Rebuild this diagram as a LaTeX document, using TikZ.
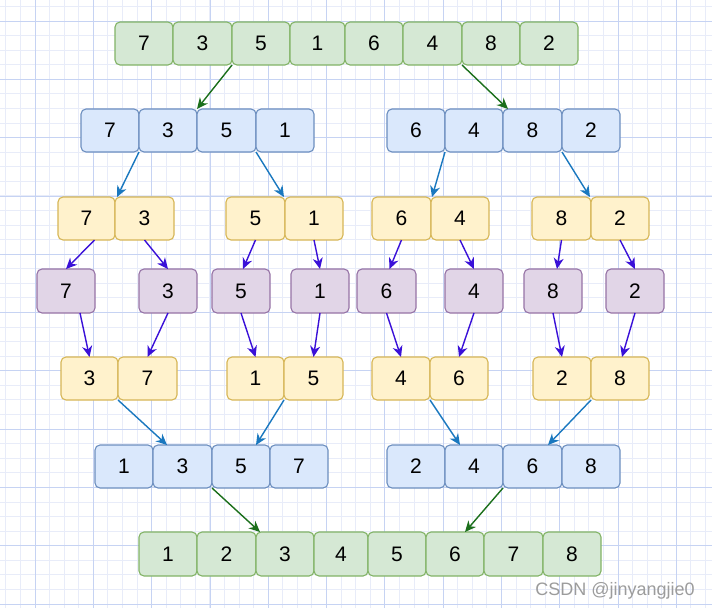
\documentclass[tikz,border=0pt]{standalone}
\usepackage{fontspec}
\setmainfont{Liberation Sans}
\usetikzlibrary{arrows.meta,calc}
\definecolor{gfill}{HTML}{D5E8D4}
\definecolor{gline}{HTML}{82B366}
\definecolor{bfill}{HTML}{DAE8FC}
\definecolor{bline}{HTML}{6C8EBF}
\definecolor{yfill}{HTML}{FFF2CC}
\definecolor{yline}{HTML}{D6B656}
\definecolor{pfill}{HTML}{E1D5E7}
\definecolor{pline}{HTML}{9673A6}
\definecolor{garrow}{HTML}{1B6F1B}
\definecolor{barrow}{HTML}{1A78BF}
\definecolor{parrow}{HTML}{3A10D8}
\definecolor{gridminor}{HTML}{E8ECF9}
\definecolor{gridmajor}{HTML}{C6D3F3}
\definecolor{wmark}{HTML}{9C9C9C}
\newcommand\bx[7]{%
  \pgfmathsetmacro\bxw{#4-#3}\pgfmathsetmacro\bxh{#6-#5}%
  \pgfmathsetmacro\bxcx{(#3+#4)/2}\pgfmathsetmacro\bxcy{(#5+#6)/2}%
  \node[#1,minimum width=\bxw pt,minimum height=\bxh pt] (#2) at (\bxcx,\bxcy) {#7};}
\tikzset{
  box/.style={rounded corners=5pt, line width=1.1pt, inner sep=0pt, outer sep=0pt,
    font=\fontsize{21}{24}\selectfont, text=black},
  gbox/.style={box, fill=gfill, draw=gline},
  bbox/.style={box, fill=bfill, draw=bline},
  ybox/.style={box, fill=yfill, draw=yline},
  pbox/.style={box, fill=pfill, draw=pline},
  arr/.style={line width=1.4pt, -{Stealth[length=11pt,width=10pt,inset=3.5pt]}},
  garr/.style={arr, draw=garrow},
  barr/.style={arr, draw=barrow},
  parr/.style={arr, draw=parrow},
  minorline/.style={draw=gridminor, line width=0.9pt},
  majorline/.style={draw=gridmajor, line width=0.8pt},
}
\begin{document}
\begin{tikzpicture}[x=1pt,y=-1pt]
\useasboundingbox (0,0) rectangle (712,608);
\fill[white] (0,0) rectangle (712,608);
% grid
\foreach \k in {0,...,48} {\draw[minorline] ({5.85+14.575*\k},0) -- ({5.85+14.575*\k},608);}
\foreach \k in {0,...,41} {\draw[minorline] (0,{6.4+14.575*\k}) -- (712,{6.4+14.575*\k});}
\foreach \k in {0,...,12} {\draw[majorline] ({35+58.3*\k-58.3},0) -- ({35+58.3*\k-58.3},608);}
\foreach \k in {0,...,10} {\draw[majorline] (0,{21+58.3*\k}) -- (712,{21+58.3*\k});}
% row 1
\bx{gbox}{t1}{115}{173}{22}{65}{7}
\bx{gbox}{t2}{173}{232}{22}{65}{3}
\bx{gbox}{t3}{232}{290}{22}{65}{5}
\bx{gbox}{t4}{290}{345}{22}{65}{1}
\bx{gbox}{t5}{345}{403}{22}{65}{6}
\bx{gbox}{t6}{403}{462}{22}{65}{4}
\bx{gbox}{t7}{462}{520}{22}{65}{8}
\bx{gbox}{t8}{520}{578}{22}{65}{2}
% row 2
\bx{bbox}{b1}{81}{139}{109}{152}{7}
\bx{bbox}{b2}{139}{197}{109}{152}{3}
\bx{bbox}{b3}{197}{256}{109}{152}{5}
\bx{bbox}{b4}{256}{314}{109}{152}{1}
\bx{bbox}{b5}{387}{445}{109}{152}{6}
\bx{bbox}{b6}{445}{503}{109}{152}{4}
\bx{bbox}{b7}{503}{562}{109}{152}{8}
\bx{bbox}{b8}{562}{620}{109}{152}{2}
% row 3
\bx{ybox}{y1}{58}{115}{197}{240}{7}
\bx{ybox}{y2}{115}{174}{197}{240}{3}
\bx{ybox}{y3}{226}{285}{197}{240}{5}
\bx{ybox}{y4}{285}{343}{197}{240}{1}
\bx{ybox}{y5}{372}{431}{197}{240}{6}
\bx{ybox}{y6}{431}{489}{197}{240}{4}
\bx{ybox}{y7}{532}{591}{197}{240}{8}
\bx{ybox}{y8}{591}{649}{197}{240}{2}
% row 4
\bx{pbox}{p1}{37}{95}{269}{313}{7}
\bx{pbox}{p2}{139}{197}{269}{313}{3}
\bx{pbox}{p3}{212}{270}{269}{313}{5}
\bx{pbox}{p4}{291}{349}{269}{313}{1}
\bx{pbox}{p5}{357}{416}{269}{313}{6}
\bx{pbox}{p6}{445}{503}{269}{313}{4}
\bx{pbox}{p7}{524}{582}{269}{313}{8}
\bx{pbox}{p8}{606}{664}{269}{313}{2}
% row 5
\bx{ybox}{r1}{61}{118}{357}{400}{3}
\bx{ybox}{r2}{118}{177}{357}{400}{7}
\bx{ybox}{r3}{227}{284}{357}{400}{1}
\bx{ybox}{r4}{284}{343}{357}{400}{5}
\bx{ybox}{r5}{372}{430}{357}{400}{4}
\bx{ybox}{r6}{430}{488}{357}{400}{6}
\bx{ybox}{r7}{533}{591}{357}{400}{2}
\bx{ybox}{r8}{591}{649}{357}{400}{8}
% row 6
\bx{bbox}{c1}{95}{153}{445}{488}{1}
\bx{bbox}{c2}{153}{212}{445}{488}{3}
\bx{bbox}{c3}{212}{270}{445}{488}{5}
\bx{bbox}{c4}{270}{328}{445}{488}{7}
\bx{bbox}{c5}{387}{445}{445}{488}{2}
\bx{bbox}{c6}{445}{503}{445}{488}{4}
\bx{bbox}{c7}{503}{562}{445}{488}{6}
\bx{bbox}{c8}{562}{620}{445}{488}{8}
% row 7
\bx{gbox}{g1}{139}{197}{532}{576}{1}
\bx{gbox}{g2}{197}{256}{532}{576}{2}
\bx{gbox}{g3}{256}{314}{532}{576}{3}
\bx{gbox}{g4}{314}{368}{532}{576}{4}
\bx{gbox}{g5}{368}{426}{532}{576}{5}
\bx{gbox}{g6}{426}{484}{532}{576}{6}
\bx{gbox}{g7}{484}{543}{532}{576}{7}
\bx{gbox}{g8}{543}{601}{532}{576}{8}
% arrows row 1 -> 2
\draw[garr] (t3.south west) -- (b2.north east);
\draw[garr] (t7.south west) -- ($(b7.north west)+(5,0)$);
% row 2 -> 3
\draw[barr] (b1.south east) -- ($(y1.north east)+(2,0)$);
\draw[barr] (b3.south east) -- ($(y4.north west)+(-1,0)$);
\draw[barr] (b5.south east) -- ($(y5.north east)+(1,0)$);
\draw[barr] (b7.south east) -- ($(y8.north west)+(-1,0)$);
% row 3 -> 4
\draw[parr] ($(y1.south)+(8,0)$) -- (p1.north);
\draw[parr] (y2.south) -- (p2.north);
\draw[parr] (y3.south) -- ($(p3.north)+(2,0)$);
\draw[parr] (y4.south) -- (p4.north);
\draw[parr] (y5.south) -- ($(p5.north)+(3,0)$);
\draw[parr] (y6.south) -- (p6.north);
\draw[parr] (y7.south) -- ($(p7.north)+(4,0)$);
\draw[parr] (y8.south) -- (p8.north);
% row 4 -> 5
\draw[parr] ($(p1.south)+(14,0)$) -- (r1.north);
\draw[parr] (p2.south) -- (r2.north);
\draw[parr] (p3.south) -- (r3.north);
\draw[parr] (p4.south) -- (r4.north);
\draw[parr] (p5.south) -- (r5.north);
\draw[parr] (p6.south) -- (r6.north);
\draw[parr] (p7.south) -- (r7.north);
\draw[parr] (p8.south) -- ($(r8.north)+(2,0)$);
% row 5 -> 6
\draw[barr] (r1.south east) -- ($(c2.north west)+(14,0)$);
\draw[barr] (r3.south east) -- ($(c3.north east)+(-14,0)$);
\draw[barr] (r5.south east) -- ($(c6.north west)+(15,0)$);
\draw[barr] (r7.south east) -- ($(c7.north east)+(-14,0)$);
% row 6 -> 7
\draw[garr] (c2.south east) -- ($(g3.north west)+(4,0)$);
\draw[garr] (c6.south east) -- ($(g6.north)+(10,0)$);
% watermark
\node[anchor=base east, text=wmark, inner sep=0pt, font=\fontsize{18}{20}\selectfont] (wm) at (695,595) {CSDN @jinyangjie0};
\end{tikzpicture}
\end{document}
